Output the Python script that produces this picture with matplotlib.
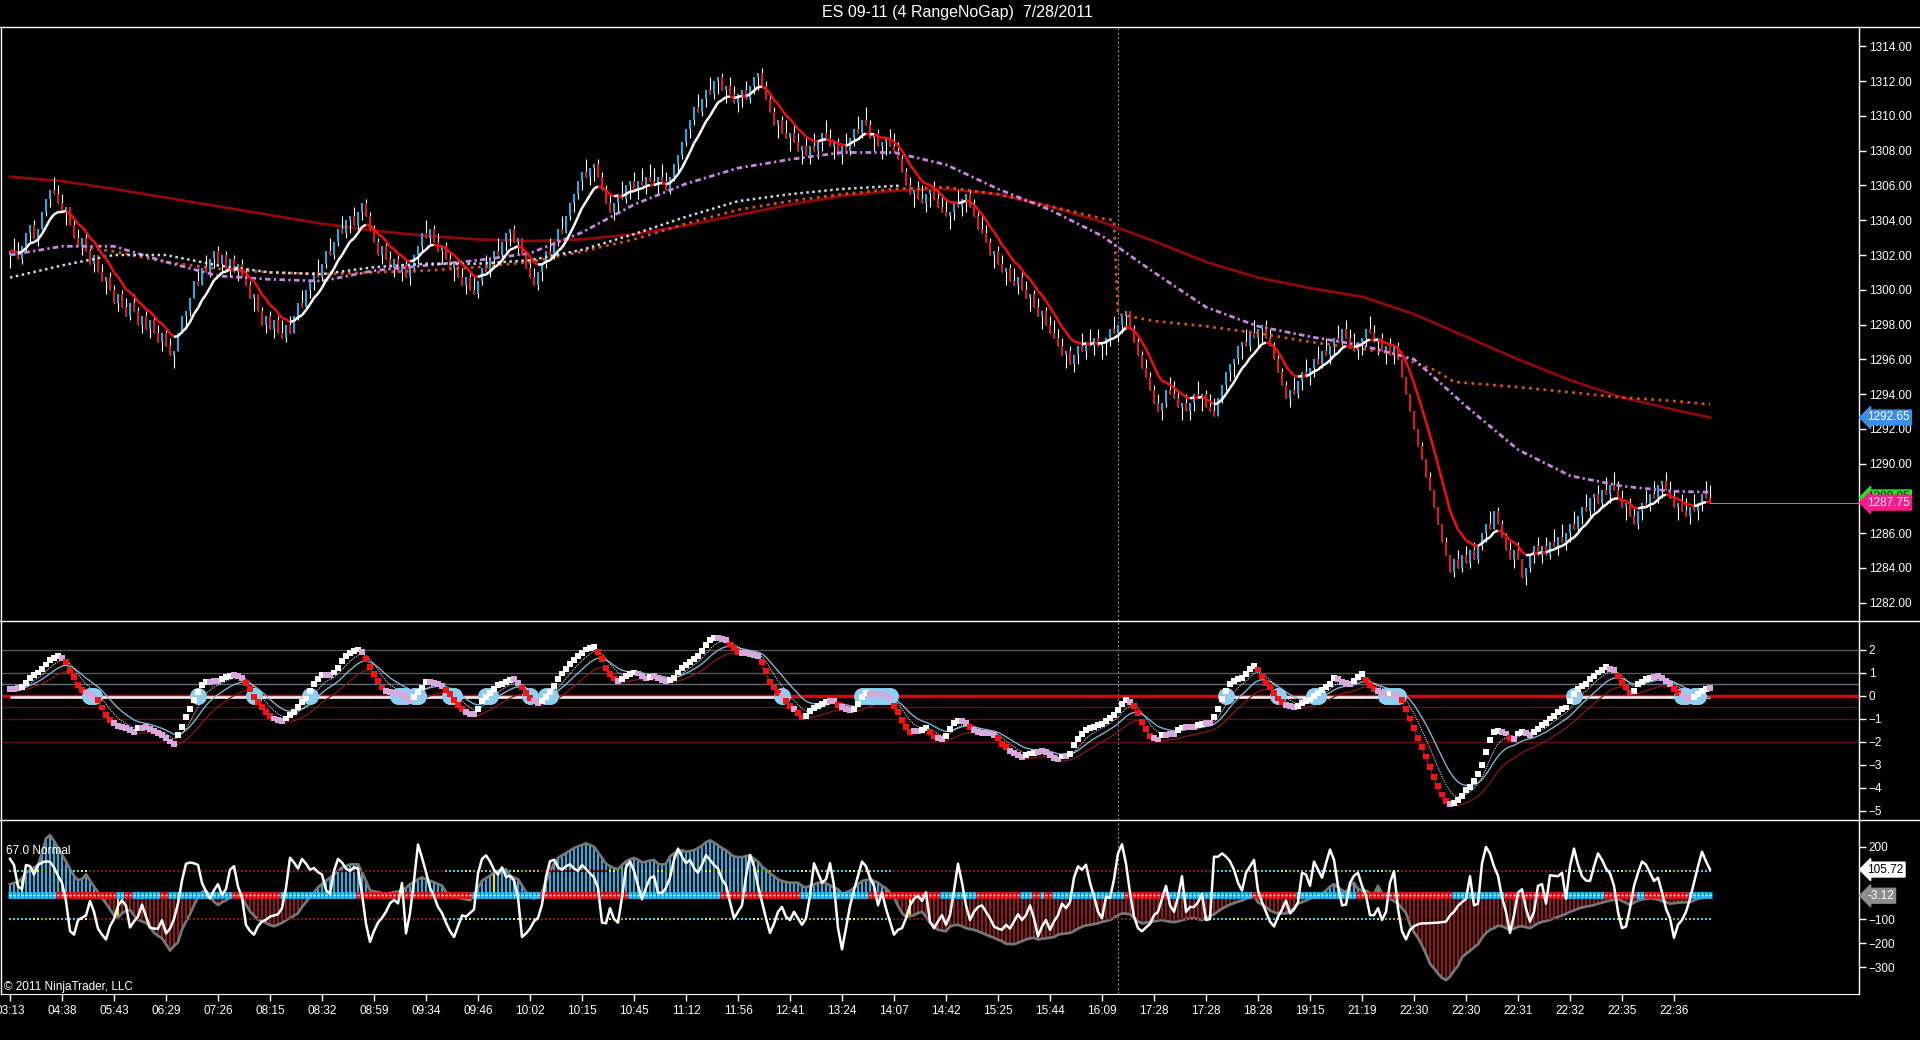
import matplotlib
matplotlib.use("Agg")
import matplotlib.pyplot as plt
import matplotlib.transforms as mtransforms
from matplotlib.collections import LineCollection
from matplotlib.lines import Line2D
import numpy as np
import pandas as pd

plt.rcParams['font.family'] = ['Liberation Sans', 'DejaVu Sans']

title = "ES 09-11 (4 RangeNoGap)  7/28/2011"

# one label every 13 bars
time_labels = ["03:13", "04:38", "05:43", "06:29", "07:26", "08:15", "08:32", "08:59",
               "09:34", "09:46", "10:02", "10:15", "10:45", "11:12", "11:56", "12:41",
               "13:24", "14:07", "14:42", "15:25", "15:44", "16:09", "17:28", "17:28",
               "18:28", "19:15", "21:19", "22:30", "22:30", "22:31", "22:32", "22:35", "22:36"]
LABEL_STEP = 13
RANGE = 1.0   # 4 tick range bars
SESSION_BAR = 277

# range bar closes (13 bars per row)
closes = [
    1302.25, 1302.0, 1301.75, 1302.5, 1303.25, 1303.75, 1303.0, 1303.5, 1304.5, 1305.25, 1305.75, 1305.5, 1305.0,
    1304.5, 1304.75, 1303.75, 1303.0, 1302.5, 1303.0, 1302.25, 1301.5, 1302.0, 1301.0, 1300.5, 1300.75, 1300.0,
    1299.25, 1299.75, 1299.0, 1298.5, 1299.25, 1298.75, 1298.0, 1298.5, 1297.75, 1298.25, 1297.5, 1297.0, 1297.5,
    1296.75, 1296.25, 1296.5, 1297.5, 1298.5, 1298.75, 1299.5, 1300.5, 1300.25, 1301.25, 1301.0, 1301.75, 1302.25,
    1301.5, 1302.0, 1301.25, 1301.75, 1301.0, 1301.5, 1300.75, 1300.25, 1299.5, 1299.75, 1298.75, 1298.0, 1298.5,
    1297.75, 1298.25, 1297.5, 1297.25, 1298.0, 1297.5, 1298.5, 1299.25, 1299.0, 1300.0, 1300.5, 1301.0, 1300.75,
    1301.5, 1302.25, 1302.0, 1302.75, 1303.5, 1303.25, 1304.0, 1304.25, 1303.75, 1304.5, 1305.0, 1304.25, 1303.5,
    1302.75, 1302.0, 1302.5, 1301.75, 1301.25, 1301.75, 1301.0, 1301.5, 1300.75, 1301.25, 1302.0, 1302.5, 1303.25,
    1303.0, 1303.5, 1302.75, 1302.25, 1302.5, 1301.75, 1301.25, 1301.5, 1300.75, 1300.25, 1300.75, 1300.0, 1299.75,
    1300.5, 1301.25, 1301.0, 1301.75, 1302.25, 1302.0, 1302.75, 1303.25, 1303.5, 1302.75, 1303.0, 1302.0, 1301.25,
    1300.75, 1300.25, 1301.0, 1301.5, 1302.25, 1302.0, 1302.75, 1303.5, 1303.25, 1304.25, 1305.0, 1305.5, 1306.25,
    1306.75, 1306.5, 1307.0, 1307.25, 1306.5, 1305.75, 1305.0, 1304.5, 1305.0, 1305.5, 1305.25, 1306.0, 1306.25,
    1305.75, 1306.25, 1306.0, 1306.5, 1306.25, 1306.0, 1306.5, 1306.25, 1305.75, 1306.5, 1307.25, 1307.75, 1308.5,
    1309.25, 1309.75, 1310.5, 1310.25, 1311.0, 1311.5, 1311.25, 1312.0, 1312.25, 1311.5, 1311.75, 1311.25, 1310.75,
    1311.25, 1311.5, 1311.0, 1311.75, 1312.25, 1312.5, 1311.75, 1311.0, 1310.25, 1309.5, 1309.75, 1309.0, 1308.75,
    1309.0, 1308.5, 1308.0, 1308.25, 1307.75, 1308.25, 1308.0, 1308.5, 1309.0, 1308.75, 1308.25, 1308.5, 1307.75,
    1308.25, 1308.0, 1308.75, 1309.25, 1309.0, 1309.75, 1309.5, 1308.75, 1309.0, 1308.25, 1308.5, 1308.75, 1308.25,
    1308.0, 1307.5, 1306.75, 1306.0, 1305.5, 1305.75, 1305.25, 1305.0, 1305.5, 1305.75, 1305.25, 1304.75, 1304.5,
    1304.25, 1304.5, 1305.0, 1304.75, 1305.25, 1305.5, 1304.75, 1304.25, 1303.5, 1303.25, 1302.75, 1302.0, 1302.25,
    1301.5, 1301.0, 1301.25, 1300.5, 1300.25, 1300.75, 1300.0, 1299.5, 1299.75, 1299.0, 1298.5, 1298.75, 1298.0,
    1297.5, 1297.25, 1296.75, 1296.25, 1296.5, 1295.75, 1296.25, 1296.75, 1296.5, 1297.0, 1296.75, 1297.25, 1296.75,
    1297.0, 1297.25, 1297.75, 1297.5, 1298.0, 1298.5, 1298.75, 1297.75, 1297.0, 1296.25, 1295.5, 1295.0, 1294.25,
    1293.5, 1293.0, 1293.5, 1294.25, 1294.0, 1293.75, 1293.25, 1293.5, 1293.0, 1293.5, 1294.0, 1293.75, 1294.0,
    1293.25, 1293.0, 1292.75, 1293.75, 1294.5, 1295.25, 1295.75, 1296.0, 1296.75, 1297.0, 1296.75, 1297.5, 1297.25,
    1297.75, 1298.0, 1297.25, 1296.75, 1296.0, 1295.25, 1294.5, 1293.75, 1294.25, 1294.0, 1294.75, 1295.25, 1295.0,
    1295.5, 1296.0, 1295.75, 1296.5, 1296.25, 1296.75, 1297.25, 1297.0, 1297.75, 1297.25, 1296.75, 1296.5, 1297.0,
    1297.25, 1297.75, 1297.5, 1297.0, 1297.25, 1296.5, 1296.75, 1296.25, 1296.75, 1296.0, 1295.0, 1294.0, 1293.0,
    1292.0, 1291.0, 1290.25, 1289.25, 1288.5, 1287.5, 1286.5, 1285.5, 1284.75, 1283.75, 1284.5, 1284.0, 1284.75,
    1284.25, 1285.0, 1284.5, 1285.25, 1286.0, 1286.5, 1286.25, 1287.25, 1286.5, 1285.75, 1285.0, 1284.5, 1285.0,
    1284.5, 1283.5, 1284.0, 1284.75, 1285.25, 1284.75, 1285.25, 1284.75, 1285.5, 1285.25, 1285.75, 1285.5, 1286.0,
    1286.5, 1286.25, 1287.0, 1287.5, 1287.25, 1288.0, 1288.25, 1287.75, 1288.5, 1288.25, 1288.75, 1288.5, 1288.0,
    1287.5, 1287.75, 1287.0, 1286.5, 1287.25, 1287.75, 1287.5, 1288.25, 1288.0, 1288.75, 1289.0, 1288.5, 1288.0,
    1287.5, 1287.75, 1287.25, 1287.0, 1287.5, 1287.25, 1287.75, 1288.25, 1288.0, 1287.75,
]

# slower averages, read at the label bars
ma_bars = [0, 13, 26, 39, 52, 65, 78, 91, 104, 117, 130, 143, 156, 169, 182, 195, 208,
           221, 234, 247, 260, 273, 286, 299, 312, 325, 338, 351, 364, 377, 390, 403, 416, 425]
long_ma = [1306.5, 1306.25, 1305.8, 1305.3, 1304.8, 1304.3, 1303.8, 1303.4, 1303.1, 1302.9, 1302.8,
           1302.9, 1303.2, 1303.7, 1304.3, 1304.9, 1305.4, 1305.7, 1305.8, 1305.5, 1304.8, 1303.9,
           1302.8, 1301.6, 1300.7, 1300.1, 1299.6, 1298.6, 1297.3, 1296.0, 1294.8, 1293.8, 1293.1, 1292.65]
pink_ma = [1302.0, 1302.5, 1302.5, 1301.6, 1300.8, 1300.6, 1300.5, 1301.1, 1301.4, 1301.7, 1302.1,
           1303.3, 1304.9, 1306.1, 1307.0, 1307.5, 1307.9, 1307.9, 1307.2, 1305.8, 1304.6, 1303.1,
           1301.0, 1299.0, 1297.9, 1297.3, 1296.8, 1296.0, 1293.3, 1290.8, 1289.3, 1288.7, 1288.4, 1288.35]
white_ma_bars = [0, 13, 26, 39, 52, 65, 78, 91, 104, 117, 130, 143, 156, 169, 182, 195, 208, 223]
white_ma = [1300.7, 1301.4, 1302.0, 1302.0, 1301.4, 1301.0, 1300.9, 1301.3, 1301.5, 1301.5, 1301.7,
            1302.3, 1303.2, 1304.2, 1305.1, 1305.5, 1305.8, 1306.0]
orange_bars = [20, 26, 39, 52, 65, 78, 91, 104, 117, 130, 143, 156, 169, 182, 195, 208, 221, 234,
               247, 260, 273, 276, 277, 286, 299, 312, 325, 338, 347, 351, 356, 361, 377, 390, 403, 416, 425]
orange_ma = [1302.4, 1302.2, 1301.6, 1301.2, 1301.0, 1300.9, 1301.0, 1301.1, 1301.3, 1301.6, 1302.2,
             1302.9, 1303.8, 1304.6, 1305.1, 1305.5, 1305.8, 1305.9, 1305.5, 1304.8, 1304.1, 1304.0,
             1298.6, 1298.2, 1297.9, 1297.5, 1297.0, 1296.6, 1296.3, 1295.8, 1295.4, 1294.7, 1294.4,
             1294.1, 1293.8, 1293.6, 1293.4]
green_tag = 1288.05

# middle panel oscillator
osc = [
    0.3, 0.3, 0.33, 0.38, 0.55, 0.75, 0.9, 1.0, 1.17, 1.35, 1.54, 1.65, 1.71,
    1.65, 1.46, 1.1, 0.8, 0.45, 0.23, 0.1, 0.05, -0.05, -0.2, -0.52, -0.86, -1.07,
    -1.2, -1.33, -1.38, -1.43, -1.5, -1.58, -1.43, -1.4, -1.36, -1.45, -1.55, -1.62, -1.72,
    -1.85, -2.0, -2.09, -1.72, -1.35, -0.95, -0.6, -0.2, 0.15, 0.45, 0.57, 0.6, 0.62,
    0.64, 0.7, 0.8, 0.85, 0.88, 0.85, 0.78, 0.55, 0.3, -0.06, -0.3, -0.5, -0.7,
    -0.9, -1.0, -1.07, -1.1, -1.0, -0.86, -0.7, -0.5, -0.3, -0.13, 0.2, 0.5, 0.7,
    0.88, 0.88, 0.88, 1.0, 1.2, 1.5, 1.7, 1.83, 1.92, 2.0, 1.9, 1.6, 1.25,
    0.95, 0.65, 0.35, 0.2, 0.14, 0.1, 0.06, 0.02, -0.08, -0.2, -0.05, 0.15, 0.35,
    0.6, 0.58, 0.55, 0.5, 0.42, 0.25, 0.05, -0.2, -0.4, -0.6, -0.72, -0.8, -0.81,
    -0.57, -0.25, -0.05, 0.12, 0.3, 0.45, 0.52, 0.6, 0.66, 0.7, 0.55, 0.35, 0.1,
    -0.1, -0.22, -0.32, -0.25, -0.06, 0.15, 0.4, 0.7, 0.96, 1.15, 1.39, 1.55, 1.71,
    1.85, 2.0, 2.08, 2.12, 1.9, 1.6, 1.2, 0.95, 0.74, 0.65, 0.7, 0.85, 0.95,
    1.0, 0.96, 0.85, 0.74, 0.8, 0.84, 0.75, 0.68, 0.64, 0.68, 0.75, 1.0, 1.2,
    1.32, 1.45, 1.6, 1.72, 1.95, 2.2, 2.43, 2.52, 2.5, 2.47, 2.41, 2.22, 2.05,
    1.88, 1.83, 1.83, 1.8, 1.78, 1.71, 1.45, 1.05, 0.6, 0.35, 0.12, -0.03, -0.25,
    -0.45, -0.6, -0.75, -0.93, -0.88, -0.66, -0.55, -0.46, -0.36, -0.28, -0.25, -0.23, -0.4,
    -0.5, -0.57, -0.64, -0.6, -0.35, -0.05, 0.1, 0.08, 0.07, 0.09, 0.05, 0.0, -0.13,
    -0.46, -0.7, -1.07, -1.36, -1.58, -1.56, -1.55, -1.48, -1.43, -1.58, -1.78, -1.85, -1.9,
    -1.75, -1.45, -1.2, -1.12, -1.1, -1.2, -1.36, -1.5, -1.6, -1.62, -1.64, -1.65, -1.7,
    -1.85, -2.09, -2.25, -2.4, -2.48, -2.58, -2.67, -2.6, -2.52, -2.48, -2.45, -2.42, -2.45,
    -2.59, -2.7, -2.78, -2.65, -2.64, -2.55, -2.16, -1.9, -1.68, -1.5, -1.43, -1.36, -1.3,
    -1.25, -1.1, -0.98, -0.86, -0.64, -0.35, -0.2, -0.28, -0.45, -0.75, -1.14, -1.45, -1.75,
    -1.85, -1.91, -1.72, -1.7, -1.68, -1.66, -1.5, -1.39, -1.37, -1.36, -1.35, -1.3, -1.22,
    -1.2, -1.19, -0.93, -0.57, -0.15, 0.2, 0.52, 0.62, 0.7, 0.78, 0.92, 1.17, 1.28,
    1.13, 0.85, 0.55, 0.38, 0.1, -0.13, -0.28, -0.4, -0.46, -0.5, -0.45, -0.32, -0.22,
    -0.17, -0.02, 0.12, 0.23, 0.38, 0.52, 0.75, 0.7, 0.6, 0.55, 0.52, 0.65, 0.8,
    0.93, 0.67, 0.45, 0.3, 0.2, 0.1, 0.01, 0.09, 0.05, -0.03, -0.2, -0.6, -1.0,
    -1.4, -1.85, -2.25, -2.65, -3.1, -3.55, -3.95, -4.3, -4.6, -4.72, -4.68, -4.55, -4.35,
    -4.1, -3.97, -3.72, -3.4, -3.0, -2.45, -1.95, -1.6, -1.55, -1.6, -1.65, -1.85, -1.9,
    -1.65, -1.58, -1.62, -1.7, -1.6, -1.45, -1.3, -1.2, -1.0, -0.88, -0.7, -0.6, -0.52,
    -0.25, 0.05, 0.3, 0.42, 0.52, 0.7, 0.85, 1.0, 1.1, 1.25, 1.17, 1.1, 0.85,
    0.55, 0.35, 0.12, 0.2, 0.5, 0.6, 0.7, 0.78, 0.82, 0.84, 0.75, 0.65, 0.52,
    0.3, 0.12, 0.0, -0.1, -0.13, -0.05, 0.06, 0.2, 0.3, 0.32,
]
osc_levels = [2, 1, 0.5, -0.5, -1, -2]
zero_white = [(0, 192), (303, 342), (390, 425)]

# bottom panel: smoothed histogram and fast CCI
hist = [
    45, 50, 55, 70, 90, 105, 115, 125, 175, 235, 249, 225, 195,
    168, 140, 107, 80, 62, 66, 86, 60, 35, 12, -12, -35, -60,
    -85, -96, -76, -66, -62, -85, -103, -110, -116, -135, -157, -170, -180,
    -205, -231, -212, -197, -143, -110, -80, -42, -10, 12, 19, -5, -28,
    -42, -30, -22, -10, 0, -8, -15, -40, -69, -85, -103, -110, -116,
    -125, -130, -123, -116, -105, -96, -86, -76, -50, -30, -8, 10, 32,
    45, 59, 72, 86, 100, 114, 120, 127, 128, 127, 95, 59, 19,
    15, 12, 8, 5, 8, 12, 14, 19, 30, 45, 53, 65, 73,
    66, 59, 53, 45, 39, 12, 0, -8, -12, -15, -18, -22, 0,
    30, 59, 70, 80, 95, 100, 105, 107, 80, 72, 66, 40, 12,
    0, -15, -2, 12, 55, 100, 130, 154, 165, 174, 185, 195, 202,
    208, 215, 208, 201, 178, 154, 130, 120, 112, 107, 125, 140, 148,
    154, 147, 135, 139, 143, 146, 130, 126, 130, 160, 173, 183, 186,
    180, 183, 186, 195, 205, 220, 227, 218, 207, 195, 186, 172, 159,
    158, 157, 162, 166, 150, 139, 118, 105, 90, 78, 65, 58, 54,
    51, 51, 51, 38, 31, 38, 44, 51, 50, 49, 40, 30, 24,
    4, 10, 18, 30, 45, 58, 62, 65, 58, 51, 38, 28, 10,
    -9, -45, -75, -91, -88, -84, -75, -70, -91, -115, -131, -145, -148,
    -151, -131, -126, -124, -130, -138, -142, -145, -151, -158, -165, -172, -178,
    -186, -192, -203, -204, -205, -199, -192, -185, -180, -178, -185, -182, -180,
    -178, -175, -165, -162, -160, -158, -150, -140, -132, -127, -124, -121, -118,
    -112, -108, -104, -95, -84, -77, -78, -80, -95, -110, -118, -115, -112,
    -110, -107, -104, -108, -111, -113, -110, -105, -100, -98, -97, -100, -104,
    -95, -88, -80, -68, -57, -48, -40, -34, -28, -23, -15, -6, -3,
    -30, -40, -50, -65, -72, -77, -77, -77, -65, -55, -36, -30, -23,
    -15, -9, -3, 5, 18, 35, 45, 31, 20, 11, 40, 51, 24,
    20, 18, 8, 4, 38, 5, -3, -16, -25, -36, -55, -75, -124,
    -155, -178, -210, -245, -286, -305, -327, -345, -354, -340, -315, -295, -259,
    -245, -232, -218, -205, -178, -158, -145, -138, -128, -130, -138, -145, -140,
    -132, -130, -134, -138, -128, -118, -112, -108, -104, -97, -91, -85, -78,
    -70, -64, -57, -52, -48, -46, -42, -36, -32, -27, -23, -20, -16,
    -25, -33, -41, -32, -23, -19, -16, -14, -16, -19, -25, -30, -36,
    -34, -32, -31, -30, -30, -22, -16, -12, -9, -3.12,
]
cci = [
    150, 125, 35, 25, 125, 120, 85, 125, 135, 140, 138, 115, 80,
    50, -25, -150, -165, -105, -95, -85, -25, -70, -140, -165, -185, -130,
    -100, -45, -22, -45, -135, -110, -90, -40, -90, -135, -140, -140, -105,
    -160, -140, -100, -35, 60, 130, 135, 132, 125, 50, 15, -15, 20,
    45, 0, 25, 105, 120, 35, -10, -125, -150, -165, -130, -110, -103,
    -90, -85, -80, -55, 30, 155, 135, 110, 150, 130, 105, 112, 95,
    85, 20, 5, 100, 150, 135, 110, 100, 115, 110, 5, -120, -195,
    -150, -115, -95, -70, -35, -20, -35, 50, -160, -75, 60, 210, 155,
    95, 30, -5, -50, -75, -115, -150, -175, -130, -85, -90, -75, -60,
    90, 150, 165, 140, 105, 85, 115, 75, 80, 60, -10, -175, -160,
    -140, -110, -95, -40, 75, 140, 147, 115, 105, 120, 127, 110, 100,
    125, 108, 90, 73, 30, -115, -118, -55, -100, -115, -10, 115, 140,
    100, 40, -18, 30, 70, 78, 10, 8, 30, 72, 146, 193, 159,
    132, 146, 112, 92, 126, 166, 146, 125, 110, 65, 40, -30, -97,
    -70, -43, 78, 166, 120, 38, -30, -97, -158, -120, -70, -50, -91,
    -104, -70, -97, -124, -97, -3, 132, 92, 51, 65, 132, 40, -138,
    -226, -138, -45, 20, 80, 139, 119, 72, 38, -43, 10, -57, -111,
    -165, -145, -138, -97, -43, -16, -3, -25, 11, -111, -138, -110, -84,
    -124, -84, 18, 130, 51, -43, -104, -70, -50, -43, -70, -97, -131,
    -140, -145, -124, -140, -110, -80, -104, -84, -43, -97, -172, -131, -104,
    -145, -110, -84, -36, -55, -30, 72, 119, 105, 126, 51, -5, -70,
    -97, -9, -12, 65, 173, 211, 130, 10, -90, -138, -151, -135, -120,
    -84, -70, -16, 38, -43, -70, -9, 78, -70, -50, -50, -30, 4,
    -104, -100, 159, 159, 173, 160, 140, 105, 51, 18, 92, 119, 146,
    18, -30, -70, -111, -131, -90, -60, -23, -77, -60, -30, 92, 85,
    38, 139, 105, 72, 132, 189, 146, 38, -43, -40, 50, 80, 92,
    38, -3, -84, -84, -55, -104, -70, 51, 99, -57, -151, -185, -145,
    -130, -122, -118, -118, -117, -116, -115, -113, -111, -85, -70, -45, -30,
    -16, 78, -43, -36, 132, 200, 173, 119, 80, -10, -70, -158, -84,
    10, 24, -57, -111, -70, 38, 45, -36, 82, 80, 78, 92, -16,
    120, 193, 126, 78, 60, 58, 119, 173, 146, 110, 90, 38, -70,
    -138, -131, -55, 38, 92, 139, 126, 92, 58, 72, 11, -57, -97,
    -178, -124, -104, -70, -16, 51, 119, 180, 140, 105.72,
]
cci_levels = [100, -100]
# centre band colour runs: (end bar, colour)
band_runs = [(12, 'blue'), (27, 'red'), (29, 'blue'), (31, 'red'), (38, 'blue'), (40, 'red'),
             (56, 'blue'), (68, 'red'), (87, 'blue'), (116, 'red'), (133, 'blue'), (155, 'red'),
             (178, 'blue'), (198, 'red'), (215, 'blue'), (233, 'red'), (242, 'blue'), (253, 'red'),
             (256, 'blue'), (258, 'red'), (259, 'blue'), (261, 'red'), (279, 'blue'), (290, 'red'),
             (311, 'blue'), (322, 'red'), (337, 'blue'), (361, 'red'), (374, 'blue'), (389, 'red'),
             (399, 'blue'), (407, 'red'), (409, 'blue'), (420, 'red'), (426, 'blue')]
bright_runs = [(0, 20), (109, 133), (150, 221), (301, 348), (389, 426)]
yellow_bars = [3, 27, 121, 225]

n = len(closes)
for name, arr in (("osc", osc), ("hist", hist), ("cci", cci)):
    assert len(arr) == n, (name, len(arr), n)

# ---------------------------------------------------------------- layout
W, H = 1920.0, 1040.0
X_LEFT, X_AXIS = 1, 1859
XL = (X_LEFT - 10) / 4.0
XR = (X_AXIS - 10) / 4.0

fig = plt.figure(figsize=(19.2, 10.4), dpi=100, facecolor='black')


def panel(top, bottom):
    ax = fig.add_axes([X_LEFT / W, 1 - bottom / H, (X_AXIS - X_LEFT) / W, (bottom - top) / H])
    ax.set_facecolor('black')
    for side in ('top', 'bottom'):
        ax.spines[side].set_visible(False)
    for side in ('left', 'right'):
        ax.spines[side].set_color('white')
        ax.spines[side].set_linewidth(1)
    ax.yaxis.tick_right()
    ax.tick_params(axis='y', colors='white', direction='out', length=5, width=1, labelsize=8.5, pad=2)
    ax.tick_params(axis='x', bottom=False, labelbottom=False)
    ax.set_xlim(XL, XR)
    ax.axvline(SESSION_BAR, color='#8a8a8a', lw=0.8, ls=(0, (2, 2)), zorder=1)
    return ax


ax1 = panel(27, 621)
ax2 = panel(621, 820)
ax3 = panel(820, 994)

x = np.arange(n)
c = np.array(closes)

# ---------------------------------------------------------------- price panel
o = np.r_[c[0] - 0.25, c[:-1]]
up = c >= o
hi = np.where(up, c, np.maximum(o, c + RANGE))
lo = np.where(up, np.minimum(o, c - RANGE), c)
ax1.vlines(x, lo, hi, color='white', lw=0.8, zorder=2.5)
ax1.bar(x, np.maximum(np.abs(c - o), 0.08), bottom=np.minimum(o, c), width=0.72,
        color=np.where(up, '#28a8e0', '#e8141c'), linewidth=0, zorder=3)

ax1.plot(ma_bars, long_ma, color='#8e0a0a', lw=2, zorder=2)
ax1.plot(orange_bars, orange_ma, color='#d0501e', lw=2, ls=(0, (1, 1.6)), zorder=3.5)
ax1.plot(ma_bars, pink_ma, color='#c884e0', lw=2, ls=(0, (2, 1.2, 0.8, 1.2)), zorder=3.5)
ax1.plot(white_ma_bars, white_ma, color='#c4dcea', lw=1.8, ls=(0, (1, 1.4)), zorder=3.5)

fast = pd.Series(c).ewm(span=9, adjust=False).mean().to_numpy()
segs = np.stack([np.column_stack([x[:-1], fast[:-1]]), np.column_stack([x[1:], fast[1:]])], axis=1)
fcol = np.where(fast[1:] >= fast[:-1], 'white', '#f01010')
ax1.add_collection(LineCollection(segs, colors=fcol, linewidths=1.8, zorder=4))

ax1.hlines(c[-1], n - 1, XR, color='#8a8a8a', lw=0.8, zorder=2)
ax1.set_ylim(1280.94, 1315.12)
ax1.set_yticks(np.arange(1282, 1315, 2))
ax1.set_yticklabels([f"{v:.2f}" for v in np.arange(1282, 1315, 2)])


def tag(ax, y, text, fc, tc):
    tr = mtransforms.blended_transform_factory(ax.transAxes, ax.transData)
    ax.text(1.0045, y, text, transform=tr, ha='left', va='center', fontsize=8.5, color=tc,
            bbox=dict(boxstyle='larrow,pad=0.12', fc=fc, ec=fc), clip_on=False, zorder=20)


tag(ax1, long_ma[-1], f"{long_ma[-1]:.2f}", '#3d8ee6', 'white')
tag(ax1, green_tag, f"{green_tag:.2f}", '#26e026', 'black')
tag(ax1, c[-1], f"{c[-1]:.2f}", '#ff1a8c', 'white')

# ---------------------------------------------------------------- oscillator panel
osc_a = np.array(osc)
for lv in osc_levels:
    col = '#555555' if lv >= 1 else ('#62707e' if lv > 0 else '#5c1010')
    ax2.axhline(lv, color=col, lw=1, zorder=1)
ax2.axhline(0, color='#e00000', lw=2.5, zorder=1.5)
for a, b in zero_white:
    ax2.hlines(-0.05, a, b, color='white', lw=1.8, zorder=1.6)

s = pd.Series(osc_a)
slow_sig = s.ewm(span=10, adjust=False).mean()
fast_sig = s.ewm(span=5, adjust=False).mean()
floor = np.empty(n)
floor[0] = osc_a[0]
for i in range(1, n):
    floor[i] = osc_a[i] if osc_a[i] < floor[i - 1] else floor[i - 1] + 0.12 * (osc_a[i] - floor[i - 1])
ax2.plot(x, slow_sig, color='#7fb2d2', lw=1, zorder=2)
ax2.plot(x, fast_sig, color='#d8d8d8', lw=0.8, ls=(0, (1, 1)), zorder=2)
ax2.plot(x, floor - 0.08, color='#7a1818', lw=1, zorder=2)

cross = np.zeros(n, bool)
cross[1:] = np.sign(osc_a[1:]) != np.sign(osc_a[:-1])
cross |= np.abs(osc_a) < 0.1
ax2.scatter(x[cross], np.zeros(cross.sum()), s=150, color='#8ecff2', linewidths=0, zorder=3)

d = np.diff(osc_a, prepend=osc_a[0])
sq = np.where(d > 0.04, 'white', np.where(d < -0.15, '#ff1010', '#d8a8dc'))
ax2.scatter(x, osc_a, marker='s', s=18, c=sq, linewidths=0, zorder=5)
ax2.set_ylim(-5.41, 3.24)
ax2.set_yticks([2, 1, 0, -1, -2, -3, -4, -5])

# ---------------------------------------------------------------- CCI panel
h = np.array(hist, dtype=float)
hcol = np.where(h >= 0, '#3ba6d6', '#8c1c1c').astype(object)
for yb in yellow_bars:
    hcol[yb] = '#f0e020'
ax3.vlines(x, 0, h, colors=list(hcol), lw=1.6, zorder=2)
ax3.plot(x, h, color='#767676', lw=2, zorder=3)

band = np.empty(n, dtype=object)
start = 0
for end, col in band_runs:
    band[start:end] = '#22b8f0' if col == 'blue' else '#e8141c'
    start = end
bsegs = [[(i - 0.5, 0), (i + 0.5, 0)] for i in x]
ax3.add_collection(LineCollection(bsegs, colors=list(band), linewidths=5, zorder=4))
wsegs = [[(i - 0.22, 0), (i + 0.22, 0)] for i in x]
ax3.add_collection(LineCollection(wsegs, colors='white', linewidths=1, zorder=4.5))

bright = np.zeros(n, bool)
for a, b in bright_runs:
    bright[a:b] = True
palette = ['#33ccee', '#33ccee', '#33ccee', '#eeee33', '#33cc33', '#ee9933']
dcol = [palette[(i // 2) % len(palette)] if bright[i] else '#8b1010' for i in x]
for lv in cci_levels:
    dsegs = [[(i - 0.3, lv), (i + 0.3, lv)] for i in x]
    ax3.add_collection(LineCollection(dsegs, colors=dcol, linewidths=1.5, zorder=4))

ax3.plot(x, cci, color='white', lw=1.8, zorder=6)
ax3.set_ylim(-412, 312)
ax3.set_yticks([200, -100, -200, -300])
ax3.spines['bottom'].set_visible(True)
ax3.spines['bottom'].set_color('white')
ax3.set_xticks(np.arange(len(time_labels)) * LABEL_STEP)
ax3.set_xticklabels(time_labels)
ax3.tick_params(axis='x', bottom=True, labelbottom=True, colors='white', direction='out',
                length=5, width=1, labelsize=8.5, pad=3)
tag(ax3, cci[-1], f"{cci[-1]:.2f}", 'white', 'black')
tag(ax3, h[-1], f"{h[-1]:.2f}", '#8c8c8c', 'white')

# ---------------------------------------------------------------- frame and texts
for yy in (27, 621, 820):
    fig.add_artist(Line2D([0, 1], [1 - yy / H, 1 - yy / H], transform=fig.transFigure,
                          color='white', lw=1))
fig.text(957 / W, 1 - 13 / H, title, color='white', ha='center', va='center', fontsize=11.5)
fig.text(6 / W, 1 - 851 / H, "67.0 Normal", color='white', ha='left', va='center', fontsize=8.5)
fig.text(4 / W, 1 - 987 / H, "\u00a9 2011 NinjaTrader, LLC", color='white', ha='left',
         va='center', fontsize=8.5)

fig.savefig("out.png", dpi=100, facecolor='black')
